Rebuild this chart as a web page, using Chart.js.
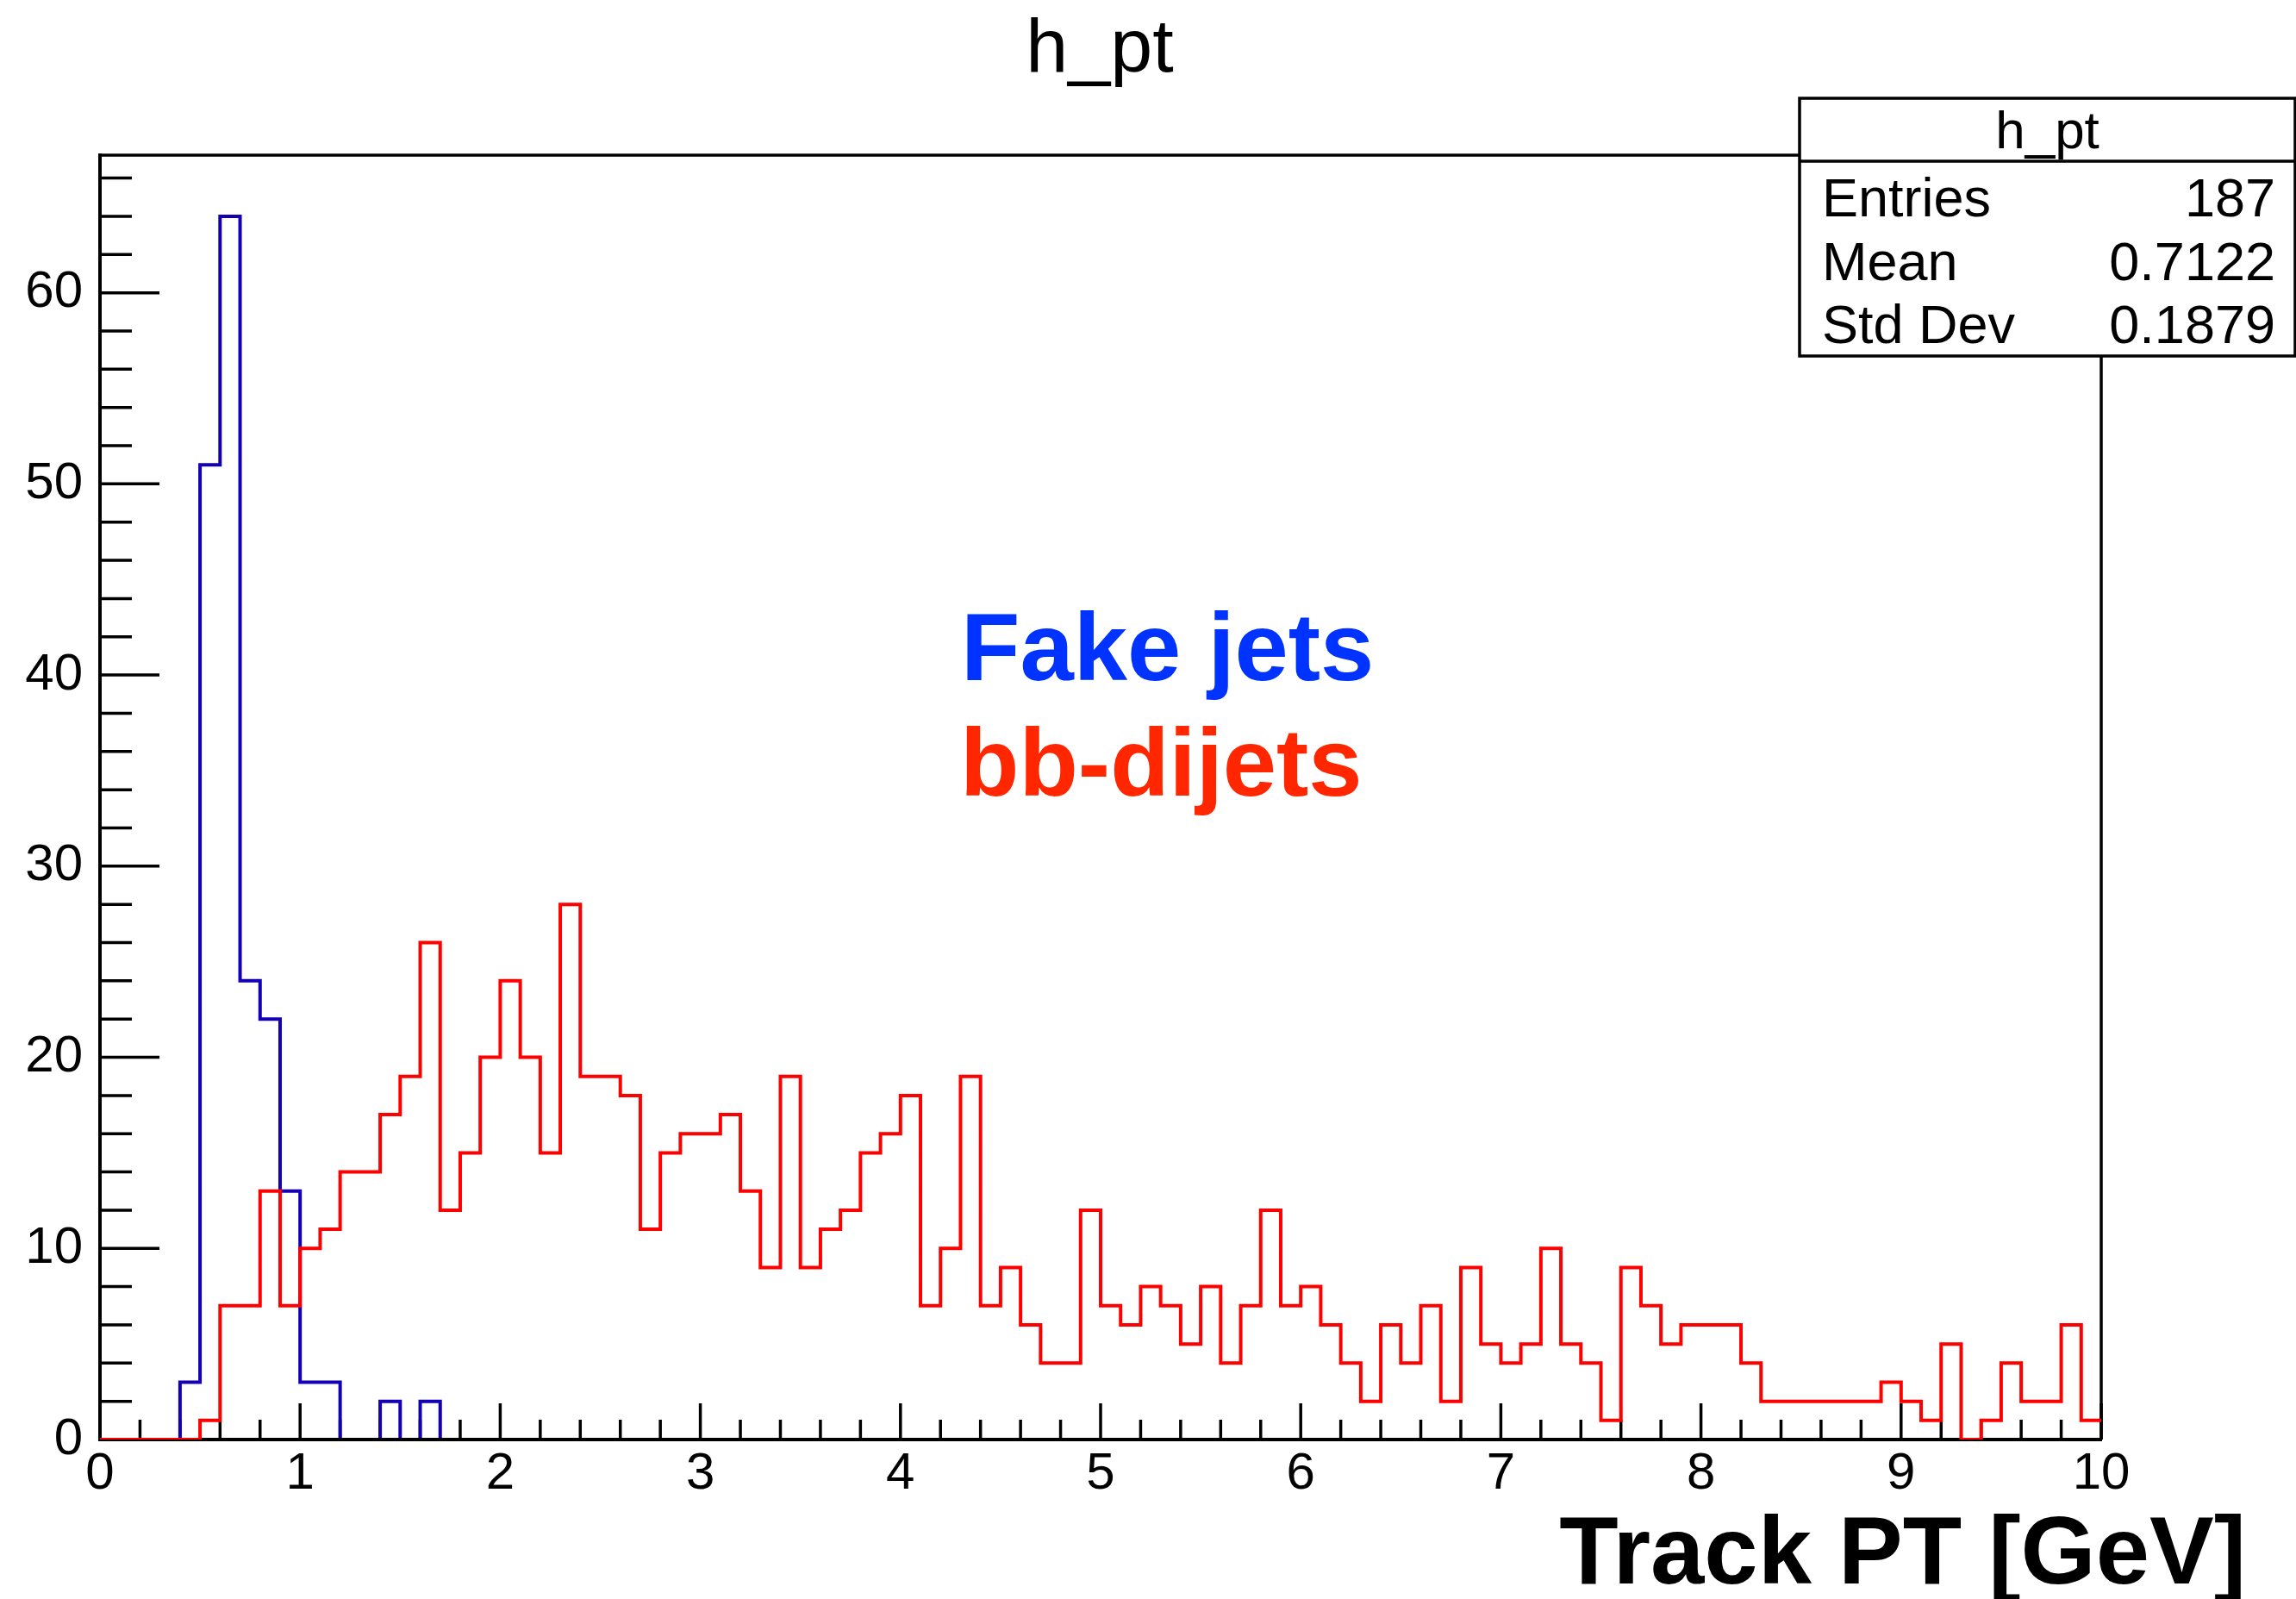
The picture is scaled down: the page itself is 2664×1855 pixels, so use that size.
<!DOCTYPE html>
<html>
<head>
<meta charset="utf-8">
<title>h_pt</title>
<script src="https://cdn.jsdelivr.net/npm/chart.js@4.4.1/dist/chart.umd.min.js"></script>
<style>
  html, body { margin: 0; padding: 0; background: #fff; }
  #wrap { width: 2664px; height: 1855px; position: relative; }
</style>
</head>
<body>
<div id="wrap"><canvas id="ptChart" width="2664" height="1855"></canvas></div>
<script>
// track pt, 100 bins of 0.1 GeV between 0 and 10
const ptMin = 0;
const ptMax = 10;
const binWidth = 0.1;

// entries per bin, fake jets
const fakeJets = [
  0, 0, 0, 0, 3, 51, 64, 24, 22, 13,
  3, 3, 0, 0, 2, 0, 2, 0, 0, 0,
  0, 0, 0, 0, 0, 0, 0, 0, 0, 0,
  0, 0, 0, 0, 0, 0, 0, 0, 0, 0,
  0, 0, 0, 0, 0, 0, 0, 0, 0, 0,
  0, 0, 0, 0, 0, 0, 0, 0, 0, 0,
  0, 0, 0, 0, 0, 0, 0, 0, 0, 0,
  0, 0, 0, 0, 0, 0, 0, 0, 0, 0,
  0, 0, 0, 0, 0, 0, 0, 0, 0, 0,
  0, 0, 0, 0, 0, 0, 0, 0, 0, 0
];

// entries per bin, bb-dijets
const bbDijets = [
  0, 0, 0, 0, 0, 1, 7, 7, 13, 7,
  10, 11, 14, 14, 17, 19, 26, 12, 15, 20,
  24, 20, 15, 28, 19, 19, 18, 11, 15, 16,
  16, 17, 13, 9, 19, 9, 11, 12, 15, 16,
  18, 7, 10, 19, 7, 9, 6, 4, 4, 12,
  7, 6, 8, 7, 5, 8, 4, 7, 12, 7,
  8, 6, 4, 2, 6, 4, 7, 2, 9, 5,
  4, 5, 10, 5, 4, 1, 9, 7, 5, 6,
  6, 6, 4, 2, 2, 2, 2, 2, 2, 3,
  2, 1, 5, 0, 1, 4, 2, 2, 6, 1
];

const yMax = 67.2;
const xTicks = [0, 1, 2, 3, 4, 5, 6, 7, 8, 9, 10];
const yTicks = [0, 10, 20, 30, 40, 50, 60];

const histTitle = 'h_pt';
const statsRows = [
  ['Entries', '187'],
  ['Mean', '0.7122'],
  ['Std Dev', '0.1879']
];

const FONT = "'Liberation Sans', Arial, Helvetica, sans-serif";

// step line points: one point on each low bin edge, plus the upper edge
function histPoints(counts) {
  const pts = counts.map((c, i) => ({ x: ptMin + i * binWidth, y: c }));
  pts.push({ x: ptMax, y: counts[counts.length - 1] });
  return pts;
}

// frame, inward ticks and the text boxes
const rootFrame = {
  id: 'rootFrame',
  beforeDatasetsDraw(chart) {
    const { ctx, chartArea: a, scales: { x, y } } = chart;
    ctx.save();
    ctx.strokeStyle = '#000';
    ctx.lineWidth = 3.5;
    ctx.beginPath();
    ctx.moveTo(a.left, a.top);
    ctx.lineTo(a.right, a.top);
    ctx.lineTo(a.right, a.bottom);
    ctx.stroke();

    ctx.lineWidth = 3.5;
    ctx.beginPath();
    for (let k = 0; k <= 50; k++) {
      const px = x.getPixelForValue(k * 0.2);
      const len = k % 5 === 0 ? 42 : 23;
      ctx.moveTo(px, a.bottom);
      ctx.lineTo(px, a.bottom - len);
    }
    for (let k = 0; k * 2 <= yMax; k++) {
      const py = y.getPixelForValue(k * 2);
      const len = k % 5 === 0 ? 69 : 37;
      ctx.moveTo(a.left, py);
      ctx.lineTo(a.left + len, py);
    }
    ctx.stroke();
    ctx.restore();
  },
  beforeDatasetDraw(chart, args) {
    // axis line goes over the first histogram, the second is on top
    if (args.index !== 0) return;
    const { ctx, chartArea: a } = chart;
    ctx.save();
    ctx.strokeStyle = '#000';
    ctx.lineWidth = 4;
    ctx.beginPath();
    ctx.moveTo(a.left, a.bottom);
    ctx.lineTo(a.right, a.bottom);
    ctx.stroke();
    ctx.restore();
  },
  afterDraw(chart) {
    const { ctx } = chart;
    ctx.save();

    // stats box
    const bx = 2088, by = 114, bw = 575, bh = 299;
    ctx.fillStyle = '#fff';
    ctx.fillRect(bx, by, bw, bh);
    ctx.strokeStyle = '#000';
    ctx.lineWidth = 3.5;
    ctx.strokeRect(bx, by, bw, bh);
    ctx.beginPath();
    ctx.moveTo(bx, 187);
    ctx.lineTo(bx + bw, 187);
    ctx.stroke();

    ctx.fillStyle = '#000';
    ctx.textBaseline = 'alphabetic';
    ctx.font = '62px ' + FONT;
    ctx.textAlign = 'center';
    ctx.fillText(histTitle, bx + bw / 2, 172);
    ctx.font = '63px ' + FONT;
    const rowBase = [251, 325, 398];
    statsRows.forEach((row, i) => {
      ctx.textAlign = 'left';
      ctx.fillText(row[0], 2114, rowBase[i]);
      ctx.textAlign = 'right';
      ctx.fillText(row[1], 2640, rowBase[i]);
    });

    // pad title
    ctx.textAlign = 'center';
    ctx.font = '88px ' + FONT;
    ctx.fillText(histTitle, 1276, 83);

    // sample labels
    ctx.textAlign = 'left';
    ctx.font = 'bold 112px ' + FONT;
    ctx.fillStyle = '#0033ff';
    ctx.fillText('Fake jets', 1115, 789);
    ctx.fillStyle = '#ff2600';
    ctx.fillText('bb-dijets', 1114, 923);

    // x axis title
    ctx.fillStyle = '#000';
    ctx.textAlign = 'right';
    ctx.font = 'bold 112px ' + FONT;
    ctx.fillText('Track PT [GeV]', 2606, 1837);

    ctx.restore();
  }
};

const ctx = document.getElementById('ptChart').getContext('2d');
const ptChart = new Chart(ctx, {
  type: 'line',
  data: {
    datasets: [
      {
        label: 'bb-dijets',
        data: histPoints(bbDijets),
        borderColor: '#ff0000',
        borderWidth: 4,
        stepped: true,
        pointRadius: 0,
        fill: false
      },
      {
        label: 'Fake jets',
        data: histPoints(fakeJets),
        borderColor: '#1400b4',
        borderWidth: 4,
        stepped: true,
        pointRadius: 0,
        fill: false
      }
    ]
  },
  options: {
    responsive: false,
    animation: false,
    devicePixelRatio: 1,
    layout: { padding: { top: 180, right: 226, left: 0, bottom: 0 } },
    plugins: {
      legend: { display: false },
      tooltip: { enabled: false }
    },
    scales: {
      x: {
        type: 'linear',
        min: ptMin,
        max: ptMax,
        afterBuildTicks: s => { s.ticks = xTicks.map(v => ({ value: v })); },
        afterFit: s => { s.height = 185; },
        grid: { display: false, drawTicks: false },
        border: { display: true, color: '#000', width: 4 },
        ticks: {
          color: '#000',
          font: { family: FONT, size: 60 },
          padding: 4,
          maxRotation: 0,
          autoSkip: false
        }
      },
      y: {
        type: 'linear',
        min: 0,
        max: yMax,
        afterBuildTicks: s => { s.ticks = yTicks.map(v => ({ value: v })); },
        afterFit: s => { s.width = 116; },
        grid: { display: false, drawTicks: false },
        border: { display: true, color: '#000', width: 4 },
        ticks: {
          color: '#000',
          font: { family: FONT, size: 60 },
          padding: 20
        }
      }
    }
  },
  plugins: [rootFrame]
});
</script>
</body>
</html>
